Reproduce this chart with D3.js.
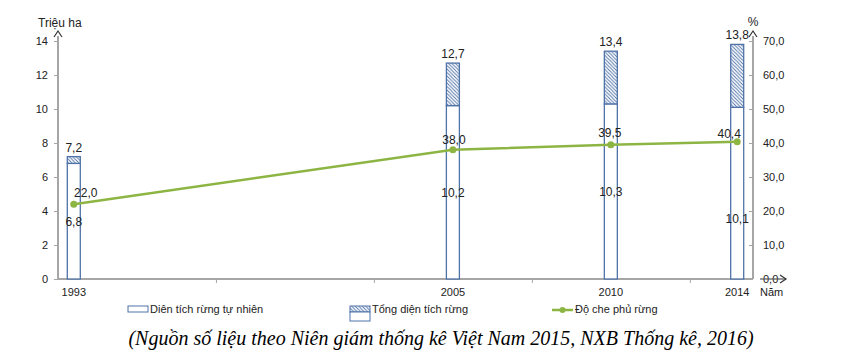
<!DOCTYPE html>
<html>
<head>
<meta charset="utf-8">
<script src="https://cdn.jsdelivr.net/npm/d3@7"></script>
<style>
  body { margin: 0; background: #fff; }
  text { font-family: "Liberation Sans", Arial, sans-serif; fill: #222; }
</style>
</head>
<body>
<div id="container"></div>
<script>
let w = 850;
let h = 353;

// data
let years = [1993, 2005, 2010, 2014];
let naturalArea = [6.8, 10.2, 10.3, 10.1];   // Diên tích rừng tự nhiên
let totalArea = [7.2, 12.7, 13.4, 13.8];      // Tổng diện tích rừng
let coverRate = [22.0, 38.0, 39.5, 40.4];     // Độ che phủ rừng (%)
let leftTicks = [0, 2, 4, 6, 8, 10, 12, 14];
let rightTicks = [0, 10, 20, 30, 40, 50, 60, 70];

let blue = "#4f72a8";
let green = "#8db543";
let axisGrey = "#a6a6a6";

let viz = d3.select("#container")
  .append("svg")
    .attr("width", w)
    .attr("height", h)
    .style("background-color", "white");

let defs = viz.append("defs");
let pat = defs.append("pattern")
  .attr("id", "hatch")
  .attr("patternUnits", "userSpaceOnUse")
  .attr("width", 3.5)
  .attr("height", 3.5);
pat.append("rect").attr("width", 3.5).attr("height", 3.5).attr("fill", "white");
pat.append("path")
  .attr("d", "M-1,-1 L4.5,4.5 M-1,2.5 L1,4.5 M2.5,-1 L4.5,1")
  .attr("stroke", blue)
  .attr("stroke-width", 0.9);

let x = d3.scaleLinear().domain([1992.5, 2014.5]).range([58, 753]);
let yL = d3.scaleLinear().domain([0, 14]).range([279, 41]);
let yR = d3.scaleLinear().domain([0, 70]).range([279, 41]);

let fmt = d => d3.format(".1f")(d).replace(".", ",");

// axes
let leftAxis = viz.append("g")
  .attr("transform", "translate(58,0)")
  .call(d3.axisLeft(yL).tickValues(leftTicks).tickSize(4).tickPadding(6).tickFormat(d3.format("d")));
let rightAxis = viz.append("g")
  .attr("transform", "translate(753,0)")
  .call(d3.axisRight(yR).tickValues(rightTicks).tickSize(4).tickPadding(6).tickFormat(fmt));
let xAxis = viz.append("g")
  .attr("transform", "translate(0,279)")
  .call(d3.axisBottom(x).tickValues([1997.5, 2002.5, 2007.5, 2012.5]).tickSize(4).tickFormat(""));

[leftAxis, rightAxis, xAxis].forEach(g => {
  g.select(".domain").attr("stroke", axisGrey).attr("stroke-width", 2);
  g.selectAll(".tick line").attr("stroke", axisGrey);
  g.selectAll("text").style("font-size", "11px").attr("fill", "#222");
});
rightAxis.selectAll(".tick line").attr("x2", -4);
leftAxis.select(".domain").attr("d", "M0,279V36");
rightAxis.select(".domain").attr("d", "M0,279V36");
xAxis.select(".domain").attr("d", "M58,0H753");

// year labels
viz.selectAll(".yearLabel")
  .data(years)
  .enter()
  .append("text")
  .attr("x", d => x(d))
  .attr("y", 296)
  .attr("text-anchor", "middle")
  .style("font-size", "11px")
  .text(d => d);

// arrows
let arrow = (path) => viz.append("path").attr("d", path)
  .attr("fill", "none").attr("stroke", "#333").attr("stroke-width", 1.2);
arrow("M54,37 L58,31 L62,37");
arrow("M749,37 L753,31 L757,37");
viz.append("line").attr("x1", 760).attr("x2", 786).attr("y1", 279).attr("y2", 279)
  .attr("stroke", "#555").attr("stroke-width", 1.2);
arrow("M780,275 L786,279 L780,283");

viz.append("text").attr("x", 38).attr("y", 27).style("font-size", "12px").text("Triệu ha");
viz.append("text").attr("x", 753).attr("y", 26).attr("text-anchor", "middle").style("font-size", "12px").text("%");
viz.append("text").attr("x", 760).attr("y", 296).style("font-size", "11px").text("Năm");

// bars
let bw = 13;
let bars = viz.selectAll(".bar")
  .data(years)
  .enter()
  .append("g");

bars.append("rect")
  .attr("x", d => x(d) - bw / 2)
  .attr("y", (d, i) => yL(naturalArea[i]))
  .attr("width", bw)
  .attr("height", (d, i) => yL(0) - yL(naturalArea[i]))
  .attr("fill", "white")
  .attr("stroke", blue)
  .attr("stroke-width", 1.3);

bars.append("rect")
  .attr("x", d => x(d) - bw / 2)
  .attr("y", (d, i) => yL(totalArea[i]))
  .attr("width", bw)
  .attr("height", (d, i) => yL(naturalArea[i]) - yL(totalArea[i]))
  .attr("fill", "url(#hatch)")
  .attr("stroke", blue)
  .attr("stroke-width", 1.3);

bars.append("text")
  .attr("x", d => x(d))
  .attr("y", (d, i) => yL(totalArea[i]) - 5)
  .attr("text-anchor", "middle")
  .style("font-size", "12px")
  .text((d, i) => fmt(totalArea[i]));

// natural labels sit in the middle of the white bar (2014 one is lower in the source)
bars.append("text")
  .attr("x", d => x(d))
  .attr("y", (d, i) => yL(naturalArea[i] / 2) + 5 + (d === 2014 ? 25 : 0))
  .attr("text-anchor", "middle")
  .style("font-size", "12px")
  .text((d, i) => fmt(naturalArea[i]));

// line
let line = d3.line()
  .x(d => x(d))
  .y((d, i) => yR(coverRate[i]));

viz.append("path")
  .datum(years)
  .attr("d", line)
  .attr("fill", "none")
  .attr("stroke", green)
  .attr("stroke-width", 2.5);

viz.selectAll(".dot")
  .data(years)
  .enter()
  .append("circle")
  .attr("cx", d => x(d))
  .attr("cy", (d, i) => yR(coverRate[i]))
  .attr("r", 3.5)
  .attr("fill", green);

let dotLabelShift = [[12, -7], [1, -6], [-1, -8], [-8, -4]];
viz.selectAll(".dotLabel")
  .data(years)
  .enter()
  .append("text")
  .attr("x", (d, i) => x(d) + dotLabelShift[i][0])
  .attr("y", (d, i) => yR(coverRate[i]) + dotLabelShift[i][1])
  .attr("text-anchor", "middle")
  .style("font-size", "12px")
  .text((d, i) => fmt(coverRate[i]));

// legend
let lg = viz.append("g");
lg.append("rect").attr("x", 128).attr("y", 306).attr("width", 20).attr("height", 6)
  .attr("fill", "white").attr("stroke", blue);
lg.append("text").attr("x", 150).attr("y", 313).style("font-size", "11px").text("Diên tích rừng tự nhiên");

lg.append("rect").attr("x", 350).attr("y", 306).attr("width", 20).attr("height", 6)
  .attr("fill", "url(#hatch)").attr("stroke", blue);
lg.append("rect").attr("x", 350).attr("y", 312).attr("width", 20).attr("height", 9)
  .attr("fill", "white").attr("stroke", blue);
lg.append("text").attr("x", 372).attr("y", 313).style("font-size", "11px").text("Tổng diện tích rừng");

lg.append("line").attr("x1", 552).attr("x2", 573).attr("y1", 310).attr("y2", 310)
  .attr("stroke", green).attr("stroke-width", 2.5);
lg.append("circle").attr("cx", 562.5).attr("cy", 310).attr("r", 3).attr("fill", green);
lg.append("text").attr("x", 575).attr("y", 313).style("font-size", "11px").text("Độ che phủ rừng");

// source
viz.append("text")
  .attr("x", 441)
  .attr("y", 345)
  .attr("text-anchor", "middle")
  .style("font-family", "'Liberation Serif', 'Times New Roman', serif")
  .style("font-style", "italic")
  .style("font-size", "20px")
  .style("fill", "#000")
  .text("(Nguồn số liệu theo Niên giám thống kê Việt Nam 2015, NXB Thống kê, 2016)");
</script>
</body>
</html>
